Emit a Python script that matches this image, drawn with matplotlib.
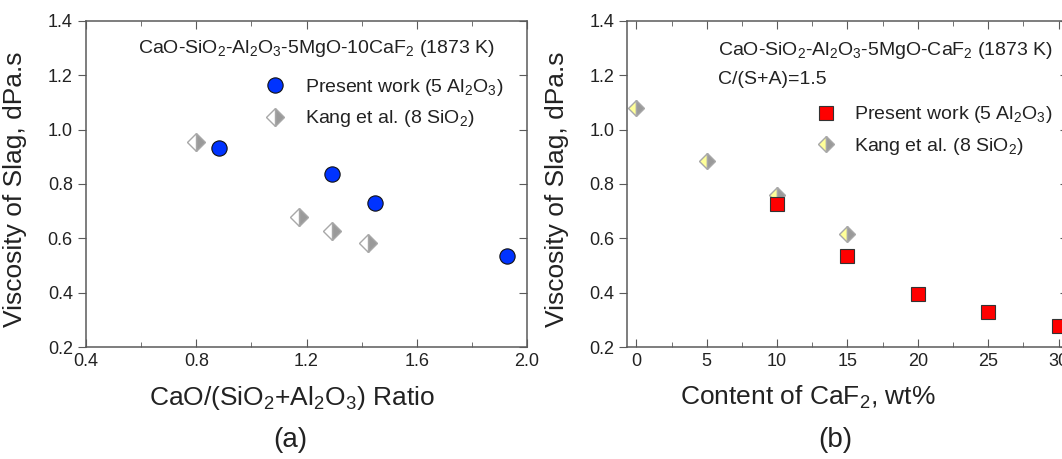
import matplotlib
matplotlib.use("Agg")
import matplotlib.pyplot as plt
from matplotlib.ticker import MultipleLocator

plt.rcParams["font.family"] = ["Liberation Sans", "DejaVu Sans"]
plt.rcParams["mathtext.fontset"] = "custom"
plt.rcParams["mathtext.rm"] = "Liberation Sans"
plt.rcParams["mathtext.it"] = "Liberation Sans:italic"

# (a) viscosity vs basicity
ratio_present = [0.883, 1.291, 1.449, 1.926]
visc_present_a = [0.933, 0.836, 0.729, 0.536]
ratio_kang = [0.80, 1.174, 1.291, 1.424]
visc_kang_a = [0.956, 0.678, 0.627, 0.584]

# (b) viscosity vs CaF2 content
caf2_present = [10, 15, 20, 25, 30]
visc_present_b = [0.727, 0.536, 0.395, 0.331, 0.278]
caf2_kang = [0, 5, 10, 15]
visc_kang_b = [1.078, 0.886, 0.76, 0.616]

SPINE = "#5a5a5a"
TEXT = "#222222"
NOTE_FS = 14


def style_axes(ax):
    for sp in ax.spines.values():
        sp.set_color(SPINE)
        sp.set_linewidth(1.1)
    ax.tick_params(axis="x", which="both", direction="in", top=True,
                   color=SPINE, labelsize=13, labelcolor=TEXT, pad=4)
    ax.tick_params(axis="x", which="major", length=6)
    ax.tick_params(axis="x", which="minor", length=3.5)
    ax.tick_params(axis="y", which="major", direction="out", length=6,
                   color=SPINE, labelsize=13, labelcolor=TEXT)
    ax.set_ylim(0.2, 1.4)
    ax.yaxis.set_major_locator(MultipleLocator(0.2))
    ax.yaxis.set_major_formatter(plt.FormatStrFormatter("%.1f"))
    # inward ticks on the right spine
    sec = ax.secondary_yaxis("right")
    sec.yaxis.set_major_locator(MultipleLocator(0.2))
    sec.tick_params(direction="in", length=6, color=SPINE, labelright=False)
    sec.spines["right"].set_visible(False)
    ax.set_ylabel("Viscosity of Slag, dPa.s", fontsize=19, color=TEXT)
    ax.yaxis.set_label_coords(-0.133, 0.485)


fig = plt.figure(figsize=(10.62, 4.59), dpi=100)
ax1 = fig.add_axes([0.081, 0.2434, 0.4153, 0.7115])
ax2 = fig.add_axes([0.5907, 0.2434, 0.4153, 0.7115])

# panel (a)
ax1.plot(ratio_present, visc_present_a, "o", ms=11, mfc="#0033ff",
         mec="#111111", mew=0.8, label="Present work (5 Al$_2$O$_3$)")
ax1.plot(ratio_kang, visc_kang_a, "D", ms=8.8, fillstyle="right",
         mfc="#9a9a9a", mfcalt="white", mec="#a8a8a8", mew=1.0,
         label="Kang et al. (8 SiO$_2$)")
ax1.set_xlim(0.4, 2.0)
ax1.xaxis.set_major_locator(MultipleLocator(0.4))
ax1.xaxis.set_minor_locator(MultipleLocator(0.2))
ax1.xaxis.set_major_formatter(plt.FormatStrFormatter("%.1f"))
style_axes(ax1)
ax1.set_xlabel("CaO/(SiO$_2$+Al$_2$O$_3$) Ratio", fontsize=19, color=TEXT)
ax1.xaxis.set_label_coords(0.467, -0.155)
ax1.xaxis.label.set_va("center")
ax1.text(0.118, 0.916, "CaO-SiO$_2$-Al$_2$O$_3$-5MgO-10CaF$_2$ (1873 K)",
         transform=ax1.transAxes, fontsize=NOTE_FS, color=TEXT, va="center")
ax1.legend(loc="upper left", bbox_to_anchor=(0.366, 0.882), frameon=False,
           fontsize=NOTE_FS, handlelength=1.0, handletextpad=1.05,
           labelspacing=0.55, borderpad=0.4, labelcolor=TEXT)

# panel (b)
ax2.plot(caf2_present, visc_present_b, "s", ms=9.5, mfc="#ff0000",
         mec="#333333", mew=0.8, label="Present work (5 Al$_2$O$_3$)",
         clip_on=False, zorder=3)
ax2.plot(caf2_kang, visc_kang_b, "D", ms=8.6, fillstyle="left",
         mfc="#ffff99", mfcalt="#9a9a9a", mec="#a8a8a8", mew=1.0,
         label="Kang et al. (8 SiO$_2$)", clip_on=False, zorder=2)
ax2.set_xlim(-0.65, 30.7)
ax2.xaxis.set_major_locator(MultipleLocator(5))
ax2.xaxis.set_minor_locator(MultipleLocator(2.5))
style_axes(ax2)
ax2.set_xlabel("Content of CaF$_2$, wt%", fontsize=19, color=TEXT)
ax2.xaxis.set_label_coords(0.41, -0.155)
ax2.xaxis.label.set_va("center")
ax2.text(0.206, 0.910, "CaO-SiO$_2$-Al$_2$O$_3$-5MgO-CaF$_2$ (1873 K)",
         transform=ax2.transAxes, fontsize=NOTE_FS, color=TEXT, va="center")
ax2.text(0.206, 0.821, "C/(S+A)=1.5", transform=ax2.transAxes,
         fontsize=NOTE_FS, color=TEXT, va="center")
ax2.legend(loc="upper left", bbox_to_anchor=(0.389, 0.797), frameon=False,
           fontsize=NOTE_FS, handlelength=1.0, handletextpad=0.95,
           labelspacing=0.55, borderpad=0.4, labelcolor=TEXT)

fig.text(290 / 1062, 1 - 440 / 459, "(a)", fontsize=20, color=TEXT,
         ha="center", va="center")
fig.text(835 / 1062, 1 - 440 / 459, "(b)", fontsize=20, color=TEXT,
         ha="center", va="center")

fig.savefig("out.png", dpi=100)
